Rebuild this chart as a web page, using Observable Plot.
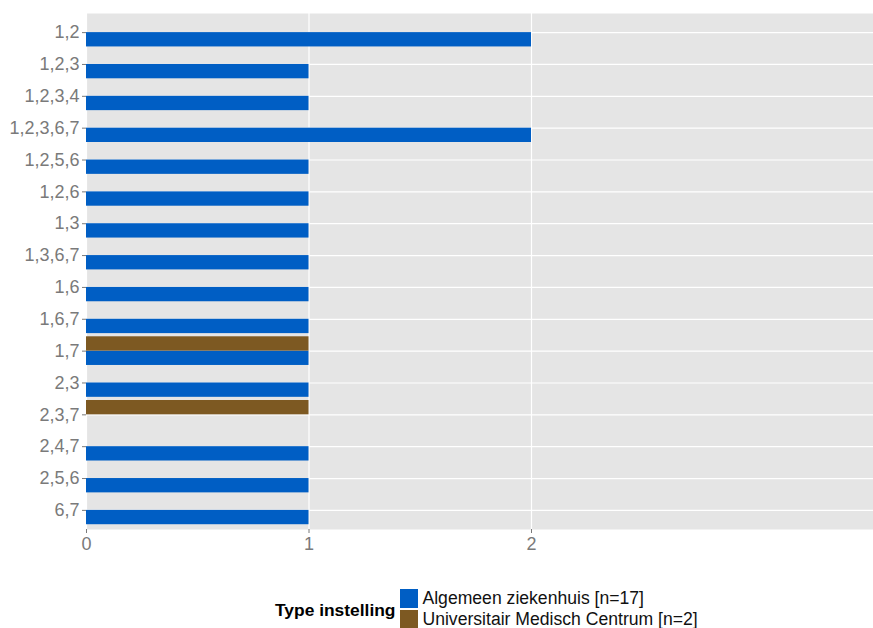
<!DOCTYPE html>
<html>
<head>
<meta charset="utf-8">
<script src="https://cdn.jsdelivr.net/npm/d3@7"></script>
<script src="https://cdn.jsdelivr.net/npm/@observablehq/plot@0.6"></script>
<style>
  html, body { margin: 0; padding: 0; background: #fff; overflow: hidden; width: 873px; height: 628px; }
  #wrap { position: relative; width: 873px; height: 628px; overflow: hidden; font-family: "Liberation Sans", Arial, sans-serif; }
  #legend { position: absolute; left: 275px; top: 589px; display: flex; align-items: center; }
  #legend .title { font-weight: bold; font-size: 17.4px; color: #000; margin-right: 5px; line-height: 20px; }
  #legend .items { display: flex; flex-direction: column; }
  #legend .item { display: flex; align-items: center; height: 19px; margin-bottom: 2px; font-size: 17.6px; line-height: 19px; color: #111; }
  #legend .sw { width: 18px; height: 19px; margin-right: 4px; flex: none; }
</style>
</head>
<body>
<div id="wrap">
  <div id="chart"></div>
  <div id="legend"></div>
</div>
<script>
const categories = ["1,2","1,2,3","1,2,3,4","1,2,3,6,7","1,2,5,6","1,2,6","1,3","1,3,6,7","1,6","1,6,7","1,7","2,3","2,3,7","2,4,7","2,5,6","6,7"];
const algemeen = [2,1,1,2,1,1,1,1,1,1,1,1,0,1,1,1];
const umc      = [0,0,0,0,0,0,0,0,0,0,1,0,1,0,0,0];
const groups = ["Algemeen ziekenhuis [n=17]", "Universitair Medisch Centrum [n=2]"];
const colors = ["#005EC4", "#7D5922"];
const xTicks = [0, 1, 2];

// dodge: UMC slot above category line, Algemeen below (ggplot position_dodge, width 0.9)
const data = [];
categories.forEach((c, i) => {
  data.push({cat: c, i, group: groups[0], value: algemeen[i], y1: i, y2: i + 0.45});
  data.push({cat: c, i, group: groups[1], value: umc[i], y1: i - 0.45, y2: i});
});
const bars = data.filter(d => d.value > 0);

const n = categories.length;
const yTicks = d3.range(n);
const axisColor = "#7a7a7a";

const chart = Plot.plot({
  width: 873,
  height: 560,
  marginTop: 13,
  marginBottom: 31,
  marginLeft: 86,
  marginRight: 0,
  style: {fontFamily: "Liberation Sans, Arial, sans-serif", background: "#fff"},
  x: {domain: [0, 3.537]},
  y: {domain: [n - 1 + 0.6, -0.6]},
  color: {domain: groups, range: colors},
  marks: [
    Plot.frame({fill: "#e5e5e5", stroke: null}),
    Plot.gridY(yTicks, {stroke: "#ffffff", strokeOpacity: 1, strokeWidth: 1.2}),
    Plot.gridX(xTicks, {stroke: "#ffffff", strokeOpacity: 1, strokeWidth: 1.2}),
    Plot.rect(bars, {x1: 0, x2: "value", y1: "y1", y2: "y2", fill: "group"}),
    Plot.axisY(yTicks, {
      tickFormat: i => categories[i],
      tickSize: 4, tickPadding: 3, fontSize: 18, color: axisColor, stroke: axisColor, label: null
    }),
    Plot.axisX(xTicks, {
      tickFormat: d3.format("d"),
      tickSize: 4, tickPadding: 4, fontSize: 18, color: axisColor, stroke: axisColor, label: null
    })
  ]
});
document.getElementById("chart").appendChild(chart);

const legend = document.getElementById("legend");
const title = document.createElement("div");
title.className = "title";
title.textContent = "Type instelling";
legend.appendChild(title);
const items = document.createElement("div");
items.className = "items";
groups.forEach((g, k) => {
  const it = document.createElement("div");
  it.className = "item";
  const sw = document.createElement("div");
  sw.className = "sw";
  sw.style.background = colors[k];
  it.appendChild(sw);
  const t = document.createElement("span");
  t.textContent = g;
  it.appendChild(t);
  items.appendChild(it);
});
legend.appendChild(items);
</script>
</body>
</html>
